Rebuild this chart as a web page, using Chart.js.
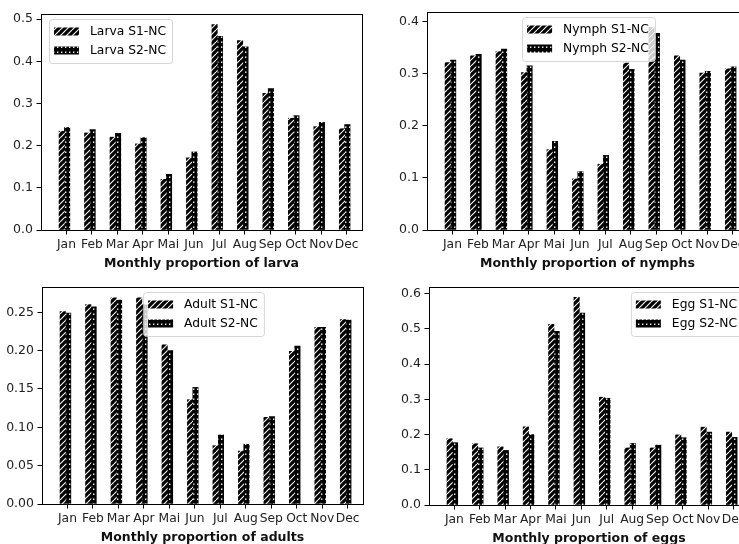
<!DOCTYPE html>
<html>
<head>
<meta charset="utf-8">
<script src="https://cdn.jsdelivr.net/npm/chart.js@4.4.0/dist/chart.umd.min.js"></script>
<style>
  html, body { margin: 0; padding: 0; background: #fff; }
  body { width: 739px; height: 544px; overflow: hidden; position: relative; }
  canvas { position: absolute; }
</style>
</head>
<body>
<canvas id="larvaChart" width="370" height="272" style="left:0px;top:0px"></canvas>
<canvas id="nymphChart" width="400" height="272" style="left:369px;top:0px"></canvas>
<canvas id="adultChart" width="370" height="274" style="left:0px;top:272px"></canvas>
<canvas id="eggChart" width="400" height="275" style="left:369px;top:272px"></canvas>
<script>
// Bulan
const months = ["Jan", "Feb", "Mar", "Apr", "Mai", "Jun", "Jul", "Aug", "Sep", "Oct", "Nov", "Dec"];

// Larva
const larvaS1 = [0.234, 0.23, 0.22, 0.204, 0.12, 0.171, 0.487, 0.449, 0.324, 0.265, 0.245, 0.24];
const larvaS2 = [0.243, 0.238, 0.229, 0.219, 0.132, 0.185, 0.459, 0.434, 0.335, 0.271, 0.255, 0.25];
const larvaTicks = [0, 0.1, 0.2, 0.3, 0.4, 0.5];

// Nymph
const nymphS1 = [0.321, 0.334, 0.342, 0.302, 0.154, 0.098, 0.126, 0.32, 0.388, 0.334, 0.301, 0.309];
const nymphS2 = [0.326, 0.337, 0.347, 0.315, 0.17, 0.112, 0.143, 0.308, 0.377, 0.326, 0.304, 0.313];
const nymphTicks = [0, 0.1, 0.2, 0.3, 0.4];

// Adult
const adultS1 = [0.251, 0.26, 0.269, 0.269, 0.2075, 0.136, 0.076, 0.069, 0.113, 0.199, 0.2305, 0.2405];
const adultS2 = [0.249, 0.257, 0.266, 0.26, 0.2, 0.152, 0.09, 0.078, 0.114, 0.206, 0.2305, 0.24];
const adultTicks = [0, 0.05, 0.1, 0.15, 0.2, 0.25];

// Egg
const eggS1 = [0.188, 0.174, 0.165, 0.222, 0.513, 0.59, 0.306, 0.162, 0.162, 0.199, 0.221, 0.207];
const eggS2 = [0.177, 0.162, 0.155, 0.2, 0.493, 0.545, 0.303, 0.175, 0.17, 0.191, 0.207, 0.192];
const eggTicks = [0, 0.1, 0.2, 0.3, 0.4, 0.5, 0.6];

const FONT = "'DejaVu Sans', sans-serif";
const FS = 12.3;

// pola arsir
function hatchDiag(ctx) {
  const c = document.createElement("canvas");
  c.width = 6; c.height = 6;
  const g = c.getContext("2d");
  g.fillStyle = "#000";
  g.fillRect(0, 0, 6, 6);
  g.strokeStyle = "#fff";
  g.lineWidth = 1.1;
  [-6, 0, 6].forEach((o) => {
    g.beginPath();
    g.moveTo(o, 6);
    g.lineTo(o + 6, 0);
    g.stroke();
  });
  return ctx.createPattern(c, "repeat");
}

function hatchDots(ctx) {
  const c = document.createElement("canvas");
  c.width = 4; c.height = 5;
  const g = c.getContext("2d");
  g.fillStyle = "#000";
  g.fillRect(0, 0, 4, 5);
  g.fillStyle = "#fff";
  g.fillRect(1, 1.5, 1.4, 1.4);
  return ctx.createPattern(c, "repeat");
}

// bingkai sumbu
const framePlugin = {
  id: "frame",
  afterDatasetsDraw(chart) {
    const { ctx, chartArea: a } = chart;
    ctx.save();
    ctx.strokeStyle = "#000";
    ctx.lineWidth = 1;
    ctx.strokeRect(Math.round(a.left) + 0.5, Math.round(a.top) + 0.5, Math.round(a.right - a.left), Math.round(a.bottom - a.top));
    ctx.restore();
  },
};

// legenda gaya matplotlib
const legendPlugin = {
  id: "mplLegend",
  afterDraw(chart, args, opts) {
    const { ctx, chartArea: a } = chart;
    const sets = chart.data.datasets;
    ctx.save();
    ctx.font = FS + "px " + FONT;
    const tw = Math.max(...sets.map((d) => ctx.measureText(d.label).width));
    const w = 41 + tw + 6;
    const h = 44;
    let x;
    if (opts.loc === "left") x = a.left + 8;
    else if (opts.loc === "right") x = a.right - 6 - w;
    else x = (a.left + a.right) / 2 - w / 2 + 1;
    const y = a.top + 5;
    ctx.beginPath();
    ctx.roundRect(x + 0.5, y + 0.5, w, h, 3);
    ctx.fillStyle = "rgba(255,255,255,0.8)";
    ctx.fill();
    ctx.strokeStyle = "rgba(204,204,204,0.8)";
    ctx.lineWidth = 1;
    ctx.stroke();
    sets.forEach((d, i) => {
      const cy = y + 12.5 + i * 19;
      ctx.fillStyle = d.backgroundColor;
      ctx.fillRect(x + 5, cy - 4, 25, 8);
      ctx.fillStyle = "#000";
      ctx.textBaseline = "middle";
      ctx.textAlign = "left";
      ctx.fillText(d.label, x + 41, cy);
    });
    ctx.restore();
  },
};

function makeChart(id, s1, s2, names, title, ticks, ymax, dec, yw, pad, loc) {
  const canvas = document.getElementById(id);
  const ctx = canvas.getContext("2d");
  const shift = -0.08;
  return new Chart(ctx, {
    type: "bar",
    data: {
      datasets: [
        {
          label: names[0],
          data: s1.map((v, i) => ({ x: i + shift, y: v })),
          backgroundColor: hatchDiag(ctx),
          borderWidth: 0,
          barThickness: 5.4,
        },
        {
          label: names[1],
          data: s2.map((v, i) => ({ x: i + shift, y: v })),
          backgroundColor: hatchDots(ctx),
          borderWidth: 0,
          barThickness: 5.4,
        },
      ],
    },
    options: {
      responsive: false,
      animation: false,
      layout: { padding: pad },
      plugins: {
        legend: { display: false },
        tooltip: { enabled: false },
        mplLegend: { loc: loc },
      },
      scales: {
        x: {
          type: "linear",
          min: -1.0,
          max: 11.6,
          offset: false,
          bounds: "data",
          afterBuildTicks: (s) => {
            s.ticks = months.map((m, i) => ({ value: i }));
          },
          afterFit: (s) => {
            s.height = 42;
          },
          ticks: {
            autoSkip: false,
            maxRotation: 0,
            padding: 3,
            color: "#222",
            font: { family: FONT, size: FS },
            callback: (v) => months[v],
          },
          grid: { offset: false, drawOnChartArea: false, tickLength: 4.5, color: "#000", tickWidth: 1 },
          border: { display: false },
          title: {
            display: true,
            text: title,
            color: "#111",
            font: { family: FONT, size: 12.5, weight: "bold" },
            padding: { top: 0, bottom: 1 },
          },
        },
        y: {
          min: 0,
          max: ymax,
          bounds: "data",
          afterBuildTicks: (s) => {
            s.ticks = ticks.map((v) => ({ value: v }));
          },
          afterFit: (s) => {
            s.width = yw;
          },
          ticks: {
            padding: 3.5,
            color: "#222",
            font: { family: FONT, size: 12.5 },
            callback: (v) => v.toFixed(dec),
          },
          grid: { drawOnChartArea: false, tickLength: 4.5, color: "#000", tickWidth: 1 },
          border: { display: false },
        },
      },
    },
    plugins: [framePlugin, legendPlugin],
  });
}

makeChart("larvaChart", larvaS1, larvaS2, ["Larva S1-NC", "Larva S2-NC"],
  "Monthly proportion of larva", larvaTicks, 0.512, 1, 41, { left: 0, top: 14, right: 8, bottom: 0 }, "left");
makeChart("nymphChart", nymphS1, nymphS2, ["Nymph S1-NC", "Nymph S2-NC"],
  "Monthly proportion of nymphs", nymphTicks, 0.418, 1, 58, { left: 0, top: 12, right: 21, bottom: 0 }, "center");
makeChart("adultChart", adultS1, adultS2, ["Adult S1-NC", "Adult S2-NC"],
  "Monthly proportion of adults", adultTicks, 0.283, 2, 42, { left: 0, top: 15, right: 7, bottom: 0 }, "center");
makeChart("eggChart", eggS1, eggS2, ["Egg S1-NC", "Egg S2-NC"],
  "Monthly proportion of eggs", eggTicks, 0.619, 1, 60, { left: 0, top: 15, right: 20, bottom: 0 }, "right");
</script>
</body>
</html>
